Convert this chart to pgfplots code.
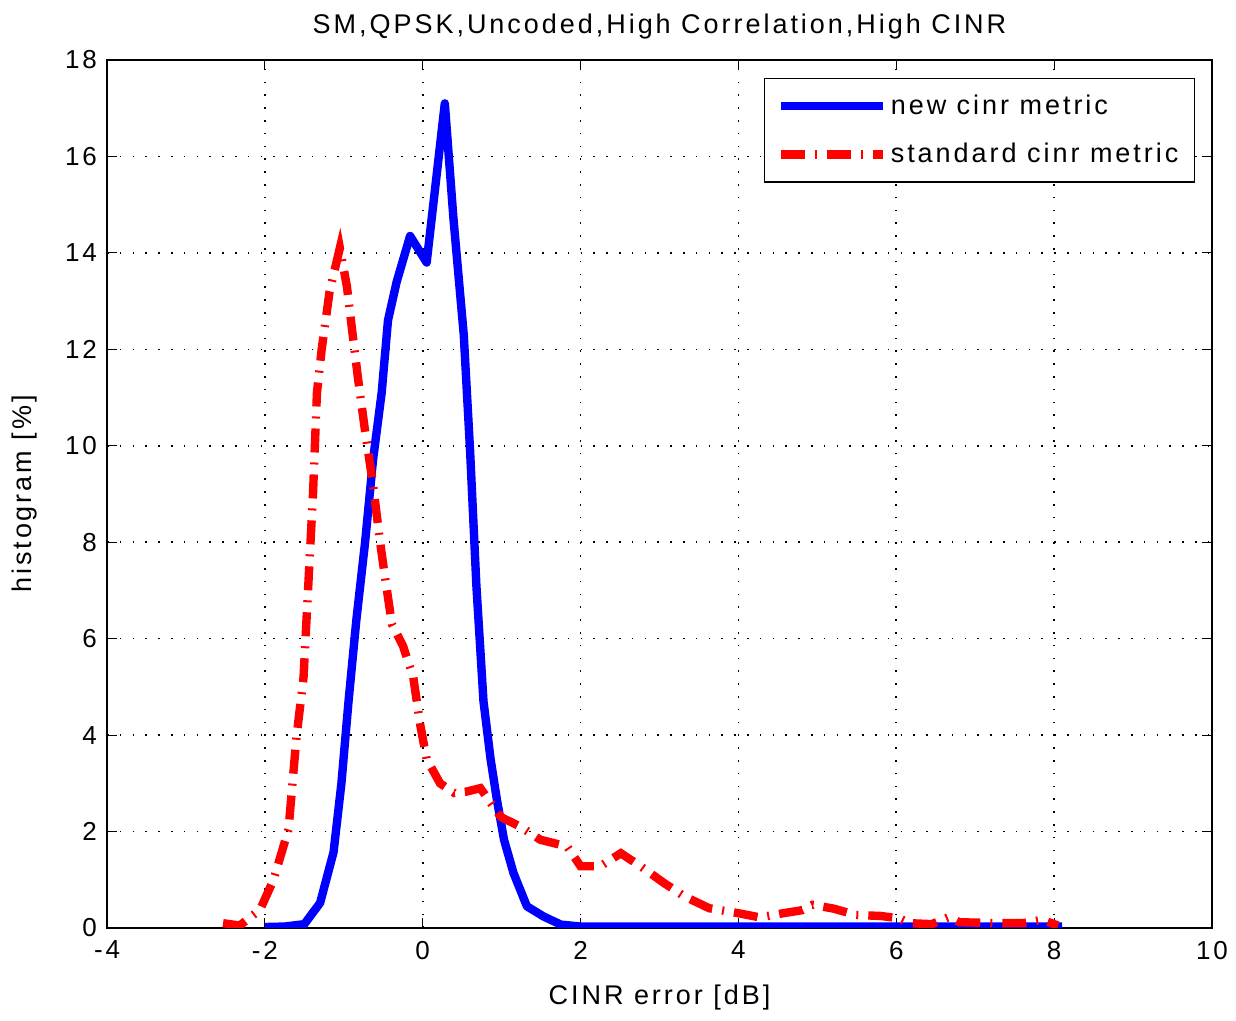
\documentclass[border=0pt]{standalone}
\usepackage{pgfplots}
\pgfplotsset{compat=1.18}
\usepackage{fontspec}
\setmainfont{Liberation Sans}[LetterSpace=11]
\begin{document}
\begin{tikzpicture}
\begin{axis}[
  scale only axis,
  width=552.5pt, height=434pt,
  xmin=-4, xmax=10, ymin=0, ymax=18,
  xtick={-4,-2,...,10}, ytick={0,2,...,18},
  grid=major,
  major grid style={black, line width=0.8pt, dash pattern=on 0.8pt off 5.6pt},
  axis line style={black, line width=0.6pt},
  tick style={black, line width=0.6pt},
  tick align=inside,
  major tick length=5pt,
  /pgf/number format/assume math mode=true,
  tick label style={font=\fontsize{13}{15}\selectfont},
  xticklabel style={yshift=-3pt},
  yticklabel style={xshift=-1.5pt},
  label style={font=\fontsize{13.5}{15}\selectfont},
  title style={font=\fontsize{13.5}{15}\selectfont, yshift=1pt},
  title={SM,QPSK,Uncoded,High Correlation,High CINR},
  xlabel={CINR error [dB]},
  xlabel style={at={(rel axis cs:0.5,0)}, anchor=center, yshift=-35pt},
  ylabel={histogram [\%]},
  ylabel style={at={(rel axis cs:-0.0743,0.5)}, anchor=center},
  legend style={at={(0.9846,0.979)}, anchor=north east, draw=black, line width=0.6pt,
    font=\fontsize{13.5}{15}\selectfont, inner xsep=6pt, inner ysep=6pt, row sep=9pt,
    /tikz/every even column/.append style={column sep=0pt}},
  legend cell align=left,
  legend image code/.code={\draw[#1] (0pt,0pt) -- (51pt,0pt);},
]
\addplot[blue, line width=4.2pt, line join=round] coordinates {
(-2.0,0.02) (-1.75,0.03) (-1.5,0.08) (-1.3,0.52) (-1.13,1.57) (-1.03,3.0) (-0.94,4.7)
(-0.84,6.4) (-0.73,8.0) (-0.63,9.7) (-0.52,11.1) (-0.44,12.6) (-0.33,13.4) (-0.16,14.35)
(0.05,13.8) (0.28,17.1) (0.39,14.7) (0.52,12.3) (0.60,9.9) (0.68,7.1) (0.77,4.7)
(0.86,3.5) (0.94,2.66) (1.03,1.83) (1.15,1.14) (1.32,0.45) (1.53,0.24) (1.75,0.07)
(2.0,0.03) (3.0,0.03) (4.0,0.03) (5.0,0.03) (6.0,0.03) (7.0,0.03) (8.1,0.03)
};
\addlegendentry{new cinr metric}
\addplot[red, line width=4.2pt, dash pattern=on 12pt off 5pt on 1pt off 5pt] coordinates {
(-2.53,0.1) (-2.32,0.05) (-2.06,0.38) (-1.89,1.0) (-1.70,2.05) (-1.60,3.95) (-1.51,5.2)
(-1.45,7.1) (-1.39,9.0) (-1.34,11.1) (-1.28,12.0) (-1.18,13.2) (-1.05,14.1) (-0.96,13.3)
(-0.88,12.2) (-0.82,11.4) (-0.73,10.3) (-0.63,9.2) (-0.54,8.0) (-0.48,7.3) (-0.39,6.3)
(-0.25,5.85) (-0.12,5.2) (-0.03,4.2) (0.05,3.5) (0.22,3.0) (0.40,2.8) (0.56,2.83)
(0.73,2.9) (0.99,2.3) (1.24,2.1) (1.49,1.83) (1.83,1.69) (2.0,1.28) (2.25,1.28)
(2.51,1.55) (2.76,1.28) (3.06,0.93) (3.31,0.66) (3.63,0.41) (3.99,0.31) (4.27,0.22)
(4.58,0.31) (4.81,0.37) (4.94,0.48) (5.21,0.40) (5.49,0.27) (5.8,0.25) (6.04,0.2)
(6.17,0.1) (6.45,0.08) (6.67,0.23) (6.8,0.12) (7.3,0.1) (7.6,0.1) (7.85,0.17) (8.05,0.05)
};
\addlegendentry{standard cinr metric}
\end{axis}
\path ([xshift=-53.5pt,yshift=-46.5pt]current axis.south west) rectangle ([xshift=12pt,yshift=30pt]current axis.north east);
\end{tikzpicture}
\end{document}
